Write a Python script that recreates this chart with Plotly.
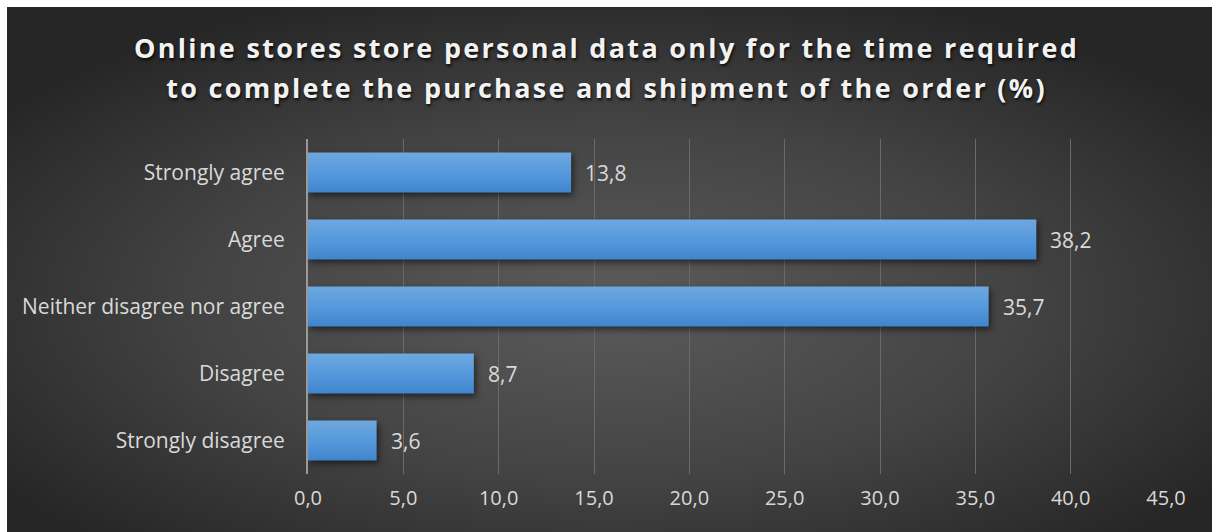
import base64
import plotly.graph_objects as go

# Survey responses (%)
categories = ["Strongly agree", "Agree", "Neither disagree nor agree", "Disagree", "Strongly disagree"]
values = [13.8, 38.2, 35.7, 8.7, 3.6]
tick_values = [0, 5, 10, 15, 20, 25, 30, 35, 40, 45]

title_text = ("Online stores store personal data only for the time required<br>"
              "to complete the purchase and shipment of the order (%)")

FONT = "Open Sans"
W, H = 1213, 532
ML, MR, MT, MB = 308, 47, 139, 58
plot_w = W - ML - MR
plot_h = H - MT - MB

# dark panel with a soft radial glow, placed behind everything
svg = """<svg xmlns='http://www.w3.org/2000/svg' width='1206' height='525' preserveAspectRatio='none'>
<defs><radialGradient id='g' cx='0.5' cy='0.56' r='0.62'>
<stop offset='0' stop-color='#5b5b5b'/><stop offset='0.55' stop-color='#434343'/>
<stop offset='1' stop-color='#262626'/></radialGradient></defs>
<rect width='1206' height='525' fill='url(#g)'/></svg>"""
bg_src = "data:image/svg+xml;base64," + base64.b64encode(svg.encode()).decode()

px0, py0, px1, py1 = 7, 7, 1212, 532
bg_x = (px0 - ML) / plot_w
bg_y = (H - MB - py0) / plot_h
bg_sx = (px1 - px0) / plot_w
bg_sy = (py1 - py0) / plot_h

fig = go.Figure()
fig.add_trace(go.Bar(
    y=categories,
    x=values,
    orientation="h",
    width=0.6,
    marker=dict(color="#5597d8", line=dict(width=0)),
    hoverinfo="skip",
))

# value labels just right of each bar end
for cat, val in zip(categories, values):
    fig.add_annotation(
        x=val, y=cat, xref="x", yref="y",
        text=f"{val:.1f}".replace(".", ","),
        showarrow=False, xanchor="left", yanchor="middle", xshift=12,
        font=dict(family=FONT, size=21, color="#d9d9d9"),
    )

fig.update_layout(
    width=W, height=H,
    margin=dict(l=ML, r=MR, t=MT, b=MB),
    paper_bgcolor="white",
    plot_bgcolor="rgba(0,0,0,0)",
    separators=",.",
    showlegend=False,
    images=[dict(source=bg_src, xref="paper", yref="paper", x=bg_x, y=bg_y,
                 sizex=bg_sx, sizey=bg_sy, xanchor="left", yanchor="top",
                 sizing="stretch", layer="below")],
    title=dict(
        text=title_text,
        x=0.5, xref="container", xanchor="center",
        y=1 - 58 / H, yref="container", yanchor="middle",
        font=dict(family=FONT, size=27, color="#f2f2f2", weight="bold",
                  shadow="1px 2px 3px rgba(0,0,0,0.8)"),
    ),
    xaxis=dict(
        range=[0, 45],
        tickvals=tick_values,
        tickformat=".1f",
        showgrid=True, gridcolor="#6a6a6a", gridwidth=1,
        zeroline=False, showline=False, ticks="",
        ticklabelstandoff=10,
        tickfont=dict(family=FONT, size=20, color="#d9d9d9"),
        fixedrange=True,
    ),
    yaxis=dict(
        categoryorder="array", categoryarray=categories,
        autorange="reversed",
        showgrid=False, zeroline=False,
        showline=True, linecolor="#999999", linewidth=2,
        ticks="", ticklabelstandoff=17,
        tickfont=dict(family=FONT, size=21, color="#d9d9d9"),
        fixedrange=True,
    ),
)

# title letter spacing and line gap, vertical gradient and soft shadow on the bars
style_js = """
document.querySelectorAll('.gtitle').forEach(function(e){
  e.style.letterSpacing = '2.3px';
  var lines = e.querySelectorAll('tspan.line');
  if (lines.length > 1) { lines[1].setAttribute('dy', '40px'); }
});
var host = document.querySelectorAll('svg.main-svg')[0];
var ns = 'http://www.w3.org/2000/svg';
var defs = host.querySelector('defs') || host.insertBefore(document.createElementNS(ns, 'defs'), host.firstChild);
var lg = document.createElementNS(ns, 'linearGradient');
lg.setAttribute('id', 'barFill'); lg.setAttribute('x1', '0'); lg.setAttribute('y1', '0');
lg.setAttribute('x2', '0'); lg.setAttribute('y2', '1');
[['0', '#6ea8df'], ['0.5', '#5799dd'], ['1', '#3f85cc']].forEach(function(s){
  var st = document.createElementNS(ns, 'stop');
  st.setAttribute('offset', s[0]); st.setAttribute('stop-color', s[1]); lg.appendChild(st);
});
defs.appendChild(lg);
document.querySelectorAll('.trace.bars .point path').forEach(function(p){
  p.style.fill = 'url(#barFill)';
  p.style.filter = 'drop-shadow(2px 3px 3px rgba(0,0,0,0.55))';
});
"""

fig.write_html("out.html", post_script=style_js, config={"displayModeBar": False})
